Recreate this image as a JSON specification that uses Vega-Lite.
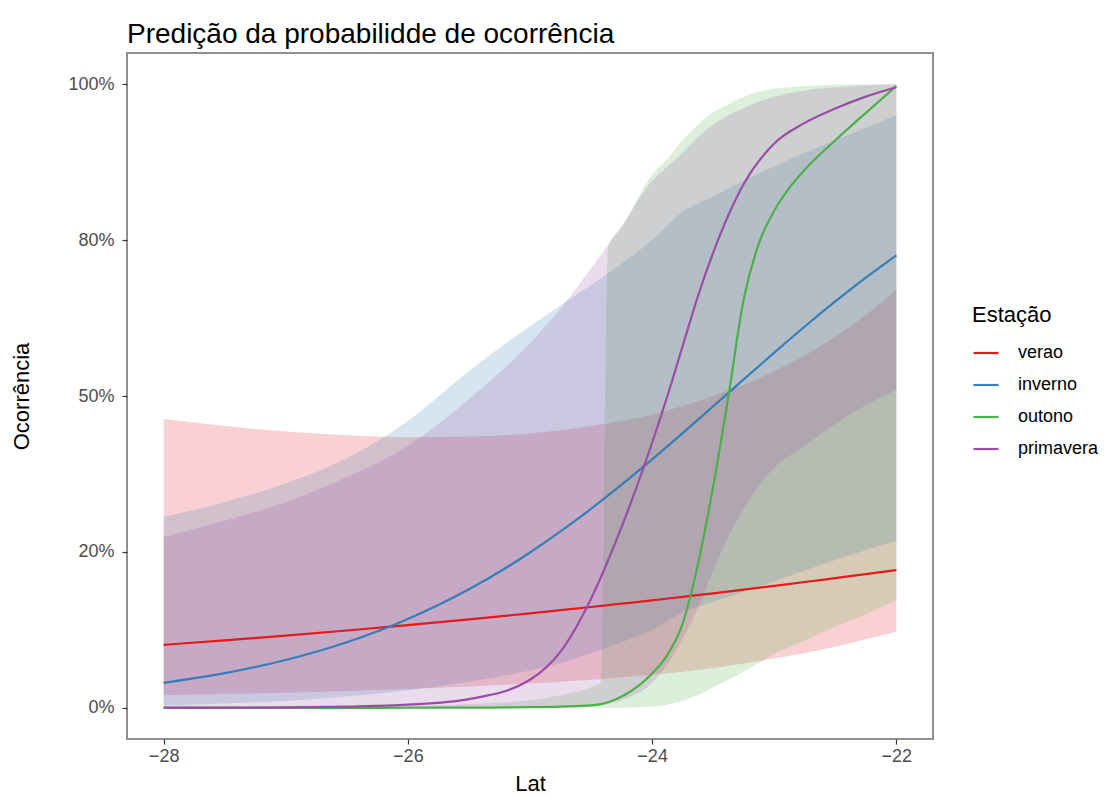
{
  "$schema": "https://vega.github.io/schema/vega-lite/v6.json",
  "width": 806,
  "height": 686,
  "autosize": {"type": "none"},
  "padding": {"left": 127, "top": 53, "right": 185, "bottom": 59},
  "background": "white",
  "title": {"text": "Predição da probabilidde de ocorrência", "anchor": "start", "frame": "group", "fontSize": 28, "font": "Liberation Sans", "fontWeight": "normal", "color": "#000000", "baseline": "alphabetic", "offset": 11, "dy": 29},
  "config": {
    "font": "Liberation Sans",
    "view": {"stroke": "#8f8f8f", "strokeWidth": 2},
    "axis": {"grid": false, "domain": false, "tickColor": "#333333", "tickSize": 5, "tickWidth": 1.2, "labelFontSize": 18, "labelColor": "#4d4d4d", "labelFont": "Liberation Sans", "titleFont": "Liberation Sans", "titleFontSize": 22, "titleFontWeight": "normal", "titleColor": "#000000"}
  },
  "data": {"values": [
    {"lat": -28, "serie": "verao", "fit": 0.101, "lo": 0.02, "hi": 0.463},
    {"lat": -27.5, "serie": "verao", "fit": 0.1082, "lo": 0.022, "hi": 0.452},
    {"lat": -27, "serie": "verao", "fit": 0.1159, "lo": 0.024, "hi": 0.443},
    {"lat": -26.5, "serie": "verao", "fit": 0.124, "lo": 0.027, "hi": 0.437},
    {"lat": -26, "serie": "verao", "fit": 0.1327, "lo": 0.03, "hi": 0.434},
    {"lat": -25.5, "serie": "verao", "fit": 0.1419, "lo": 0.034, "hi": 0.435},
    {"lat": -25, "serie": "verao", "fit": 0.1515, "lo": 0.039, "hi": 0.44},
    {"lat": -24.75, "serie": "verao", "fit": 0.1565, "lo": 0.042, "hi": 0.445},
    {"lat": -24.5, "serie": "verao", "fit": 0.1617, "lo": 0.045, "hi": 0.452},
    {"lat": -24.25, "serie": "verao", "fit": 0.167, "lo": 0.049, "hi": 0.46},
    {"lat": -24, "serie": "verao", "fit": 0.1724, "lo": 0.053, "hi": 0.47},
    {"lat": -23.75, "serie": "verao", "fit": 0.178, "lo": 0.058, "hi": 0.484},
    {"lat": -23.5, "serie": "verao", "fit": 0.1836, "lo": 0.064, "hi": 0.5},
    {"lat": -23.25, "serie": "verao", "fit": 0.1895, "lo": 0.071, "hi": 0.518},
    {"lat": -23, "serie": "verao", "fit": 0.1956, "lo": 0.079, "hi": 0.54},
    {"lat": -22.75, "serie": "verao", "fit": 0.2017, "lo": 0.088, "hi": 0.565},
    {"lat": -22.5, "serie": "verao", "fit": 0.208, "lo": 0.098, "hi": 0.595},
    {"lat": -22.25, "serie": "verao", "fit": 0.2143, "lo": 0.11, "hi": 0.63},
    {"lat": -22, "serie": "verao", "fit": 0.221, "lo": 0.122, "hi": 0.67},

    {"lat": -28, "serie": "inverno", "fit": 0.04, "lo": 0.004, "hi": 0.306},
    {"lat": -27.5, "serie": "inverno", "fit": 0.0555, "lo": 0.007, "hi": 0.33},
    {"lat": -27, "serie": "inverno", "fit": 0.0767, "lo": 0.011, "hi": 0.36},
    {"lat": -26.5, "serie": "inverno", "fit": 0.1051, "lo": 0.018, "hi": 0.4},
    {"lat": -26, "serie": "inverno", "fit": 0.1424, "lo": 0.028, "hi": 0.46},
    {"lat": -25.5, "serie": "inverno", "fit": 0.19, "lo": 0.042, "hi": 0.54},
    {"lat": -25, "serie": "inverno", "fit": 0.249, "lo": 0.06, "hi": 0.612},
    {"lat": -24.75, "serie": "inverno", "fit": 0.2828, "lo": 0.072, "hi": 0.645},
    {"lat": -24.5, "serie": "inverno", "fit": 0.3191, "lo": 0.088, "hi": 0.678},
    {"lat": -24.25, "serie": "inverno", "fit": 0.3578, "lo": 0.105, "hi": 0.712},
    {"lat": -24, "serie": "inverno", "fit": 0.3984, "lo": 0.125, "hi": 0.75},
    {"lat": -23.75, "serie": "inverno", "fit": 0.4405, "lo": 0.153, "hi": 0.795},
    {"lat": -23.5, "serie": "inverno", "fit": 0.4835, "lo": 0.17, "hi": 0.82},
    {"lat": -23.25, "serie": "inverno", "fit": 0.5267, "lo": 0.186, "hi": 0.845},
    {"lat": -23, "serie": "inverno", "fit": 0.5695, "lo": 0.203, "hi": 0.868},
    {"lat": -22.75, "serie": "inverno", "fit": 0.6114, "lo": 0.22, "hi": 0.89},
    {"lat": -22.5, "serie": "inverno", "fit": 0.6516, "lo": 0.237, "hi": 0.91},
    {"lat": -22.25, "serie": "inverno", "fit": 0.6898, "lo": 0.253, "hi": 0.93},
    {"lat": -22, "serie": "inverno", "fit": 0.7255, "lo": 0.268, "hi": 0.95},

    {"lat": -28, "serie": "outono", "fit": 0.0, "lo": 0.0, "hi": 0.0005},
    {"lat": -27.5, "serie": "outono", "fit": 0.0, "lo": 0.0, "hi": 0.0008},
    {"lat": -27, "serie": "outono", "fit": 0.0, "lo": 0.0, "hi": 0.001},
    {"lat": -26.5, "serie": "outono", "fit": 0.0, "lo": 0.0, "hi": 0.002},
    {"lat": -26, "serie": "outono", "fit": 0.0001, "lo": 0.0, "hi": 0.003},
    {"lat": -25.5, "serie": "outono", "fit": 0.0003, "lo": 0.0, "hi": 0.006},
    {"lat": -25, "serie": "outono", "fit": 0.001, "lo": 0.0, "hi": 0.012},
    {"lat": -24.75, "serie": "outono", "fit": 0.002, "lo": 0.0, "hi": 0.02},
    {"lat": -24.5, "serie": "outono", "fit": 0.004, "lo": 0.0, "hi": 0.033},
    {"lat": -24.42, "serie": "outono", "fit": 0.006, "lo": 0.0, "hi": 0.04},
    {"lat": -24.36, "serie": "outono", "fit": 0.009, "lo": 0.0, "hi": 0.74},
    {"lat": -24.25, "serie": "outono", "fit": 0.018, "lo": 0.0, "hi": 0.77},
    {"lat": -24, "serie": "outono", "fit": 0.055, "lo": 0.002, "hi": 0.855},
    {"lat": -23.875, "serie": "outono", "fit": 0.085, "lo": 0.005, "hi": 0.88},
    {"lat": -23.75, "serie": "outono", "fit": 0.135, "lo": 0.011, "hi": 0.91},
    {"lat": -23.625, "serie": "outono", "fit": 0.23, "lo": 0.02, "hi": 0.935},
    {"lat": -23.5, "serie": "outono", "fit": 0.355, "lo": 0.033, "hi": 0.955},
    {"lat": -23.375, "serie": "outono", "fit": 0.5, "lo": 0.045, "hi": 0.968},
    {"lat": -23.25, "serie": "outono", "fit": 0.655, "lo": 0.058, "hi": 0.98},
    {"lat": -23.125, "serie": "outono", "fit": 0.745, "lo": 0.072, "hi": 0.988},
    {"lat": -23, "serie": "outono", "fit": 0.797, "lo": 0.087, "hi": 0.993},
    {"lat": -22.875, "serie": "outono", "fit": 0.834, "lo": 0.097, "hi": 0.995},
    {"lat": -22.75, "serie": "outono", "fit": 0.863, "lo": 0.108, "hi": 0.997},
    {"lat": -22.5, "serie": "outono", "fit": 0.91, "lo": 0.13, "hi": 0.999},
    {"lat": -22.25, "serie": "outono", "fit": 0.954, "lo": 0.15, "hi": 1.0},
    {"lat": -22, "serie": "outono", "fit": 0.997, "lo": 0.173, "hi": 1.0},

    {"lat": -28, "serie": "primavera", "fit": 0.0002, "lo": 0.0, "hi": 0.274},
    {"lat": -27.5, "serie": "primavera", "fit": 0.0004, "lo": 0.0, "hi": 0.3},
    {"lat": -27, "serie": "primavera", "fit": 0.0008, "lo": 0.0, "hi": 0.33},
    {"lat": -26.5, "serie": "primavera", "fit": 0.002, "lo": 0.0, "hi": 0.37},
    {"lat": -26, "serie": "primavera", "fit": 0.005, "lo": 0.0, "hi": 0.42},
    {"lat": -25.5, "serie": "primavera", "fit": 0.014, "lo": 0.0, "hi": 0.495},
    {"lat": -25, "serie": "primavera", "fit": 0.045, "lo": 0.0005, "hi": 0.585},
    {"lat": -24.75, "serie": "primavera", "fit": 0.09, "lo": 0.001, "hi": 0.64},
    {"lat": -24.5, "serie": "primavera", "fit": 0.175, "lo": 0.003, "hi": 0.705},
    {"lat": -24.25, "serie": "primavera", "fit": 0.29, "lo": 0.012, "hi": 0.772},
    {"lat": -24, "serie": "primavera", "fit": 0.425, "lo": 0.04, "hi": 0.845},
    {"lat": -23.875, "serie": "primavera", "fit": 0.5, "lo": 0.07, "hi": 0.868},
    {"lat": -23.75, "serie": "primavera", "fit": 0.58, "lo": 0.11, "hi": 0.89},
    {"lat": -23.625, "serie": "primavera", "fit": 0.66, "lo": 0.16, "hi": 0.915},
    {"lat": -23.5, "serie": "primavera", "fit": 0.73, "lo": 0.22, "hi": 0.935},
    {"lat": -23.25, "serie": "primavera", "fit": 0.84, "lo": 0.32, "hi": 0.962},
    {"lat": -23, "serie": "primavera", "fit": 0.905, "lo": 0.385, "hi": 0.98},
    {"lat": -22.75, "serie": "primavera", "fit": 0.938, "lo": 0.42, "hi": 0.99},
    {"lat": -22.5, "serie": "primavera", "fit": 0.961, "lo": 0.455, "hi": 0.995},
    {"lat": -22.25, "serie": "primavera", "fit": 0.98, "lo": 0.485, "hi": 0.998},
    {"lat": -22, "serie": "primavera", "fit": 0.995, "lo": 0.51, "hi": 1.0}
  ]},
  "layer": [
    {
      "mark": {"type": "area", "fillOpacity": 0.2, "interpolate": "monotone"},
      "encoding": {
        "x": {"field": "lat", "type": "quantitative", "scale": {"domain": [-28.3, -21.7], "nice": false, "zero": false}, "axis": {"values": [-28, -26, -24, -22], "title": "Lat", "labelPadding": 3, "titlePadding": 8}},
        "y": {"field": "lo", "type": "quantitative", "scale": {"domain": [-0.05, 1.05], "nice": false, "zero": false}, "axis": {"values": [0, 0.25, 0.5, 0.75, 1], "labelExpr": "datum.value == 0 ? '0%' : datum.value == 0.25 ? '20%' : datum.value == 0.5 ? '50%' : datum.value == 0.75 ? '80%' : '100%'", "title": "Ocorrência", "labelPadding": 8, "titlePadding": 34}},
        "y2": {"field": "hi"},
        "fill": {"field": "serie", "type": "nominal", "scale": {"domain": ["verao", "inverno", "outono", "primavera"], "range": ["#E41A1C", "#377EB8", "#4DAF4A", "#984EA3"]}, "legend": {"title": "Estação", "orient": "none", "legendX": 845, "legendY": 252, "symbolType": "stroke", "symbolSize": 625, "symbolStrokeWidth": 2.2, "labelFontSize": 18, "titleFontSize": 22, "titleFontWeight": "normal", "labelColor": "#000000", "titleColor": "#000000", "rowPadding": 9, "titlePadding": 12, "labelOffset": 18, "labelFont": "Liberation Sans", "titleFont": "Liberation Sans"}}
      }
    },
    {
      "mark": {"type": "line", "strokeWidth": 2.2, "interpolate": "monotone"},
      "encoding": {
        "x": {"field": "lat", "type": "quantitative", "axis": {"values": [-28, -26, -24, -22], "title": "Lat", "labelPadding": 3, "titlePadding": 8}},
        "y": {"field": "fit", "type": "quantitative", "axis": {"values": [0, 0.25, 0.5, 0.75, 1], "labelExpr": "datum.value == 0 ? '0%' : datum.value == 0.25 ? '20%' : datum.value == 0.5 ? '50%' : datum.value == 0.75 ? '80%' : '100%'", "title": "Ocorrência", "labelPadding": 8, "titlePadding": 34}},
        "stroke": {"field": "serie", "type": "nominal", "scale": {"domain": ["verao", "inverno", "outono", "primavera"], "range": ["#E41A1C", "#377EB8", "#4DAF4A", "#984EA3"]}, "legend": {"title": "Estação", "orient": "none", "legendX": 845, "legendY": 252, "symbolType": "stroke", "symbolSize": 625, "symbolStrokeWidth": 2.2, "labelFontSize": 18, "titleFontSize": 22, "titleFontWeight": "normal", "labelColor": "#000000", "titleColor": "#000000", "rowPadding": 9, "titlePadding": 12, "labelOffset": 18, "labelFont": "Liberation Sans", "titleFont": "Liberation Sans"}}
      }
    }
  ]
}
